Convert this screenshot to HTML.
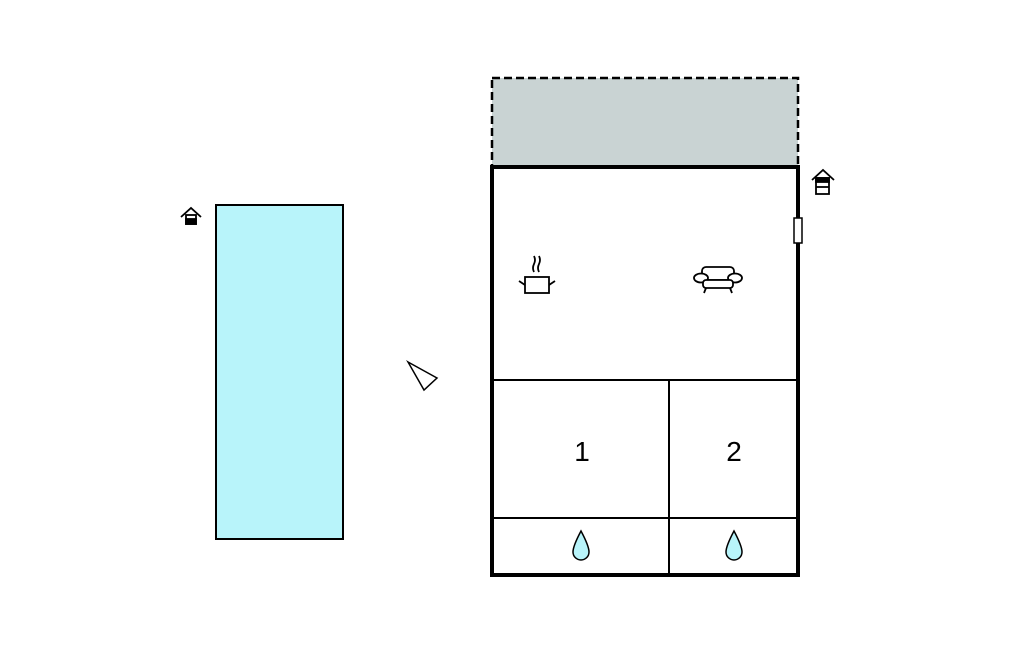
<!DOCTYPE html>
<html><head><style>html,body{margin:0;padding:0;background:#fff}</style></head>
<body>
<svg width="1024" height="652" xmlns="http://www.w3.org/2000/svg" font-family="Liberation Sans, sans-serif">
<rect x="0" y="0" width="1024" height="652" fill="#fff"/>
<rect x="492" y="78" width="306" height="89" fill="#c9d3d3" stroke="#000" stroke-width="2.5" stroke-dasharray="8,4"/>
<rect x="216" y="205" width="127" height="334" fill="#b8f4fa" stroke="#000" stroke-width="2"/>
<rect x="492" y="167" width="306" height="408" fill="#fff" stroke="#000" stroke-width="4"/>
<line x1="494" y1="380" x2="796" y2="380" stroke="#000" stroke-width="2"/>
<line x1="669" y1="380" x2="669" y2="573" stroke="#000" stroke-width="2"/>
<line x1="494" y1="518" x2="796" y2="518" stroke="#000" stroke-width="2"/>
<rect x="794" y="218" width="8" height="25" fill="#fff" stroke="#000" stroke-width="1.5"/>
<text x="582" y="461" font-size="28" text-anchor="middle">1</text>
<text x="734" y="461" font-size="28" text-anchor="middle">2</text>
<path d="M581 531 Q573 546 573 552 A8 8 0 0 0 589 552 Q589 546 581 531Z" fill="#b8f4fa" stroke="#000" stroke-width="1.5"/>
<path d="M734 531 Q726 546 726 552 A8 8 0 0 0 742 552 Q742 546 734 531Z" fill="#b8f4fa" stroke="#000" stroke-width="1.5"/>
<g stroke="#000" stroke-width="1.8" fill="none">
<rect x="525" y="277" width="24" height="16" fill="#fff"/>
<line x1="519" y1="281" x2="525" y2="285"/><line x1="555" y1="281" x2="549" y2="285"/>
<path d="M534 272 q-2 -4 0 -8 q2 -4 0 -8"/><path d="M539 272 q-2 -4 0 -8 q2 -4 0 -8"/>
</g>
<g stroke="#000" stroke-width="1.8" fill="#fff">
<rect x="702" y="267" width="32" height="13" rx="4"/>
<ellipse cx="701" cy="278" rx="7" ry="4.5"/><ellipse cx="735" cy="278" rx="7" ry="4.5"/>
<rect x="703" y="280" width="30" height="8" rx="3"/>
<line x1="706" y1="288" x2="704" y2="293"/><line x1="730" y1="288" x2="732" y2="293"/>
</g>
<polygon points="408,362 437,378 424,390" fill="#fff" stroke="#000" stroke-width="1.5"/>
<g stroke="#000" stroke-width="1.8" fill="none">
<polyline points="181,217 191,208 201,217"/>
<rect x="186" y="215" width="10" height="9" fill="#fff"/>
<rect x="186" y="219" width="10" height="5" fill="#000"/>
<polyline points="812,180 823,170 834,180"/>
<rect x="816" y="178" width="13" height="16" fill="#fff"/>
<rect x="816" y="178" width="13" height="4" fill="#000"/>
<line x1="816" y1="187" x2="829" y2="187"/>
</g>
</svg>
</body></html>
